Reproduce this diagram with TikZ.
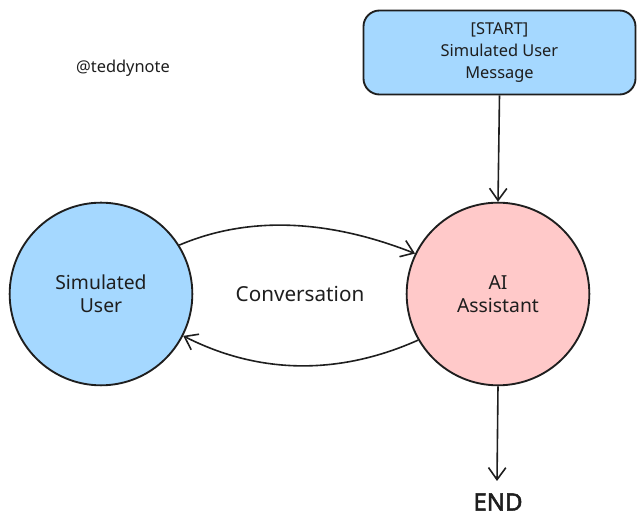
\documentclass[tikz,border=0pt]{standalone}
\usepackage{fontspec}
\setmainfont{Noto Sans}
\usetikzlibrary{arrows.meta}
\definecolor{ublue}{HTML}{A5D8FF}
\definecolor{upink}{HTML}{FFC9C9}
\definecolor{ink}{HTML}{1E1E1E}
\tikzset{
  circ/.style={circle, draw=ink, line width=1.4pt, minimum size=137pt, inner sep=0pt, align=center, font=\fontsize{14.5}{17}\selectfont, text=ink},
  startbox/.style={draw=ink, line width=1.4pt, fill=ublue, rounded corners=12pt, minimum width=204pt, minimum height=63pt, align=center, font=\fontsize{12.3}{16.5}\selectfont, text=ink},
  conn/.style={draw=ink, line width=1.2pt, -{Straight Barb[length=9pt,width=13pt,line width=1.2pt]}},
  lbl/.style={text=ink, inner sep=0pt}
}
\begin{document}
\begin{tikzpicture}[x=0.75pt,y=-0.75pt]
\useasboundingbox (0,0) rectangle (644,530);
\node[startbox] (start) at (499.5,52.5) {[START]\\Simulated User\\Message};
\node[circ, fill=ublue] (user) at (101,294) {Simulated\\User};
\node[circ, fill=upink] (ai) at (498,294) {AI\\Assistant};
\node[lbl, font=\fontsize{12.3}{14}\selectfont] (tag) at (123,68) {@teddynote};
\node[lbl, font=\fontsize{15.5}{18}\selectfont] (conv) at (300,294) {Conversation};
\node[lbl, font=\fontsize{18}{21}\selectfont\addfontfeatures{FakeBold=2}] (end) at (498,502) {END};
\coordinate (endtip) at (497,481);
\draw[conn] (start.south) -- (ai.north);
\draw[conn] (ai.south) -- (endtip);
\draw[conn] (user.32) .. controls (250,215) and (330,220) .. (ai.154);
\draw[conn] (ai.210) .. controls (340,375) and (260,375) .. (user.-27);
\end{tikzpicture}
\end{document}
